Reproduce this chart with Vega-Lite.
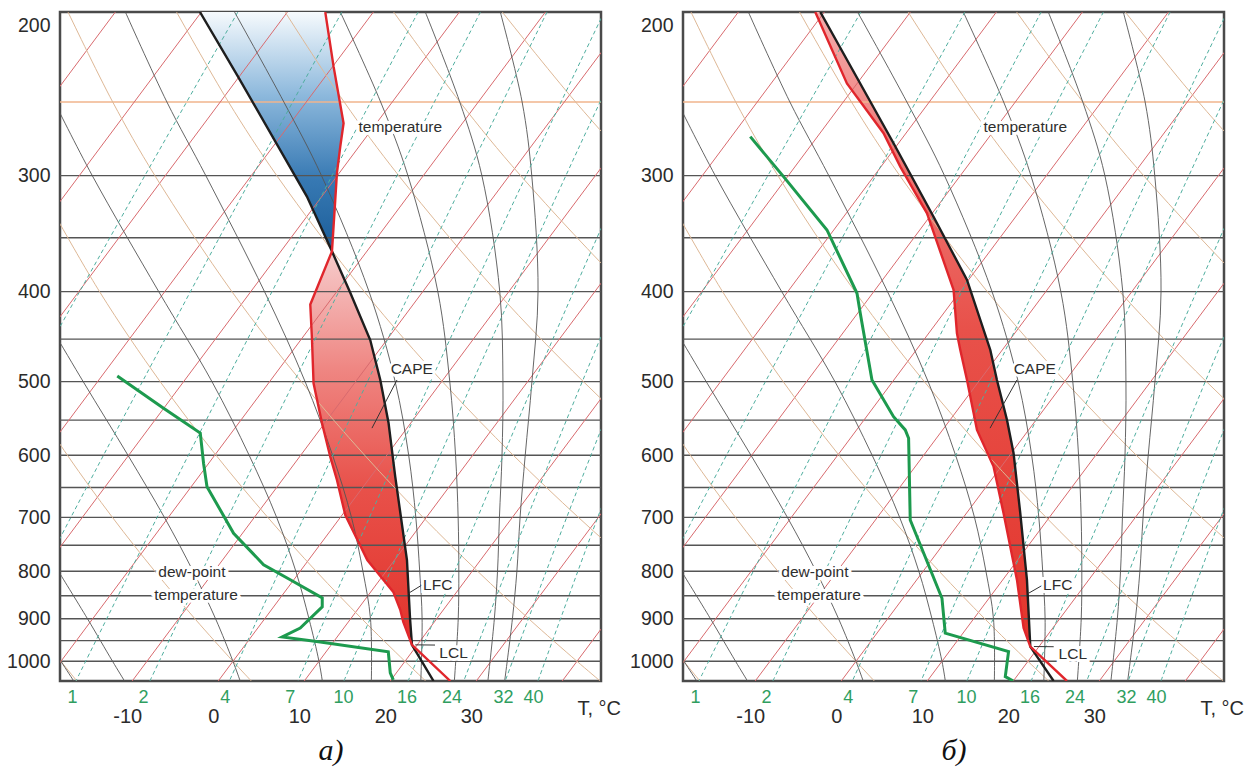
{
"$schema": "https://vega.github.io/schema/vega-lite/v6.json",
"background": "white",
"padding": {"left": 5, "top": 10, "right": 5, "bottom": 10},
"bounds": "flush",
"spacing": 82,
"config": {"view": {"stroke": "#4a4a4a", "strokeWidth": 2.5}, "font": "Liberation Sans"},
"datasets": {
"grid": [
{"k":"T","id":"t-70","x":-70,"p":1050},{"k":"T","id":"t-70","x":-11.96,"p":200},
{"k":"T","id":"t-60","x":-60,"p":1050},{"k":"T","id":"t-60","x":-1.96,"p":200},
{"k":"T","id":"t-50","x":-50,"p":1050},{"k":"T","id":"t-50","x":8.04,"p":200},
{"k":"T","id":"t-40","x":-40,"p":1050},{"k":"T","id":"t-40","x":18.04,"p":200},
{"k":"T","id":"t-30","x":-30,"p":1050},{"k":"T","id":"t-30","x":28.04,"p":200},
{"k":"T","id":"t-20","x":-20,"p":1050},{"k":"T","id":"t-20","x":38.04,"p":200},
{"k":"T","id":"t-10","x":-10,"p":1050},{"k":"T","id":"t-10","x":48.04,"p":200},
{"k":"T","id":"t0","x":0,"p":1050},{"k":"T","id":"t0","x":58.04,"p":200},
{"k":"T","id":"t10","x":10,"p":1050},{"k":"T","id":"t10","x":68.04,"p":200},
{"k":"T","id":"t20","x":20,"p":1050},{"k":"T","id":"t20","x":78.04,"p":200},
{"k":"T","id":"t30","x":30,"p":1050},{"k":"T","id":"t30","x":88.04,"p":200},
{"k":"T","id":"t40","x":40,"p":1050},{"k":"T","id":"t40","x":98.04,"p":200},
{"k":"D","id":"d-20","x":-16.44,"p":1050},{"k":"D","id":"d-20","x":-18.29,"p":1000},{"k":"D","id":"d-20","x":-22.12,"p":900},
{"k":"D","id":"d0","x":3.84,"p":1050},{"k":"D","id":"d0","x":1.71,"p":1000},{"k":"D","id":"d0","x":-2.71,"p":900},{"k":"D","id":"d0","x":-7.37,"p":800},{"k":"D","id":"d0","x":-12.3,"p":700},{"k":"D","id":"d0","x":-17.54,"p":600},{"k":"D","id":"d0","x":-23.15,"p":500},
{"k":"D","id":"d20","x":24.12,"p":1050},{"k":"D","id":"d20","x":21.71,"p":1000},{"k":"D","id":"d20","x":16.69,"p":900},{"k":"D","id":"d20","x":11.39,"p":800},{"k":"D","id":"d20","x":5.76,"p":700},{"k":"D","id":"d20","x":-0.26,"p":600},{"k":"D","id":"d20","x":-6.75,"p":500},{"k":"D","id":"d20","x":-13.8,"p":400},{"k":"D","id":"d20","x":-21.55,"p":300},
{"k":"D","id":"d40","x":44.4,"p":1050},{"k":"D","id":"d40","x":41.71,"p":1000},{"k":"D","id":"d40","x":36.1,"p":900},{"k":"D","id":"d40","x":30.16,"p":800},{"k":"D","id":"d40","x":23.82,"p":700},{"k":"D","id":"d40","x":17.02,"p":600},{"k":"D","id":"d40","x":9.66,"p":500},{"k":"D","id":"d40","x":1.59,"p":400},{"k":"D","id":"d40","x":-7.37,"p":300},{"k":"D","id":"d40","x":-12.27,"p":250},{"k":"D","id":"d40","x":-17.47,"p":200},
{"k":"D","id":"d60","x":55.5,"p":900},{"k":"D","id":"d60","x":48.92,"p":800},{"k":"D","id":"d60","x":41.88,"p":700},{"k":"D","id":"d60","x":34.3,"p":600},{"k":"D","id":"d60","x":26.06,"p":500},{"k":"D","id":"d60","x":16.98,"p":400},{"k":"D","id":"d60","x":6.8,"p":300},{"k":"D","id":"d60","x":1.19,"p":250},{"k":"D","id":"d60","x":-4.85,"p":200},
{"k":"D","id":"d80","x":59.94,"p":700},{"k":"D","id":"d80","x":51.59,"p":600},{"k":"D","id":"d80","x":42.46,"p":500},{"k":"D","id":"d80","x":32.37,"p":400},{"k":"D","id":"d80","x":20.98,"p":300},{"k":"D","id":"d80","x":14.64,"p":250},{"k":"D","id":"d80","x":7.77,"p":200},
{"k":"D","id":"d100","x":68.87,"p":600},{"k":"D","id":"d100","x":58.87,"p":500},{"k":"D","id":"d100","x":47.76,"p":400},{"k":"D","id":"d100","x":35.15,"p":300},{"k":"D","id":"d100","x":28.1,"p":250},{"k":"D","id":"d100","x":20.39,"p":200},
{"k":"D","id":"d120","x":63.15,"p":400},{"k":"D","id":"d120","x":49.33,"p":300},{"k":"D","id":"d120","x":41.55,"p":250},{"k":"D","id":"d120","x":33.02,"p":200},
{"k":"D","id":"d140","x":63.5,"p":300},{"k":"D","id":"d140","x":55.0,"p":250},{"k":"D","id":"d140","x":45.64,"p":200},
{"k":"M","id":"m-20","x":-16.8,"p":1050},{"k":"M","id":"m-20","x":-18.29,"p":1000},{"k":"M","id":"m-20","x":-20.5,"p":930},
{"k":"M","id":"m-14","x":-10.9,"p":1050},{"k":"M","id":"m-14","x":-12.29,"p":1000},{"k":"M","id":"m-14","x":-15.2,"p":900},{"k":"M","id":"m-14","x":-18.58,"p":800},
{"k":"M","id":"m0","x":2.55,"p":1050},{"k":"M","id":"m0","x":1.71,"p":1000},{"k":"M","id":"m0","x":-0.31,"p":900},{"k":"M","id":"m0","x":-2.93,"p":800},{"k":"M","id":"m0","x":-6.26,"p":700},{"k":"M","id":"m0","x":-10.5,"p":600},{"k":"M","id":"m0","x":-15.7,"p":500},{"k":"M","id":"m0","x":-21.9,"p":400},
{"k":"M","id":"m10","x":12.1,"p":1050},{"k":"M","id":"m10","x":11.71,"p":1000},{"k":"M","id":"m10","x":10.55,"p":900},{"k":"M","id":"m10","x":9.02,"p":800},{"k":"M","id":"m10","x":6.79,"p":700},{"k":"M","id":"m10","x":3.59,"p":600},{"k":"M","id":"m10","x":-0.73,"p":500},{"k":"M","id":"m10","x":-6.92,"p":400},{"k":"M","id":"m10","x":-14.65,"p":300},{"k":"M","id":"m10","x":-19.05,"p":250},
{"k":"M","id":"m16","x":17.8,"p":1050},{"k":"M","id":"m16","x":17.7,"p":900},{"k":"M","id":"m16","x":16.82,"p":800},{"k":"M","id":"m16","x":15.49,"p":700},{"k":"M","id":"m16","x":13.29,"p":600},{"k":"M","id":"m16","x":10.1,"p":500},{"k":"M","id":"m16","x":5.38,"p":400},{"k":"M","id":"m16","x":-1.45,"p":300},{"k":"M","id":"m16","x":-5.97,"p":250},{"k":"M","id":"m16","x":-10.8,"p":200},
{"k":"M","id":"m22","x":23.55,"p":1050},{"k":"M","id":"m22","x":23.7,"p":900},{"k":"M","id":"m22","x":23.42,"p":800},{"k":"M","id":"m22","x":22.97,"p":700},{"k":"M","id":"m22","x":22.14,"p":600},{"k":"M","id":"m22","x":20.57,"p":500},{"k":"M","id":"m22","x":17.53,"p":400},{"k":"M","id":"m22","x":12.0,"p":300},{"k":"M","id":"m22","x":7.63,"p":250},{"k":"M","id":"m22","x":1.89,"p":200},
{"k":"M","id":"m26","x":27.45,"p":1050},{"k":"M","id":"m26","x":27.9,"p":900},{"k":"M","id":"m26","x":27.97,"p":800},{"k":"M","id":"m26","x":27.89,"p":700},{"k":"M","id":"m26","x":27.59,"p":600},{"k":"M","id":"m26","x":26.92,"p":500},{"k":"M","id":"m26","x":25.53,"p":400},{"k":"M","id":"m26","x":22.05,"p":300},{"k":"M","id":"m26","x":18.88,"p":250},{"k":"M","id":"m26","x":14.19,"p":200},
{"k":"M","id":"m30","x":31.35,"p":1050},{"k":"M","id":"m30","x":32.1,"p":900},{"k":"M","id":"m30","x":32.47,"p":800},{"k":"M","id":"m30","x":32.69,"p":700},{"k":"M","id":"m30","x":32.99,"p":600},{"k":"M","id":"m30","x":33.1,"p":500},{"k":"M","id":"m30","x":32.73,"p":400},{"k":"M","id":"m30","x":30.65,"p":300},{"k":"M","id":"m30","x":28.08,"p":250},{"k":"M","id":"m30","x":24.07,"p":200},
{"k":"M","id":"m32","x":33.3,"p":1050},{"k":"M","id":"m32","x":34.2,"p":900},{"k":"M","id":"m32","x":34.72,"p":800},{"k":"M","id":"m32","x":35.09,"p":700},{"k":"M","id":"m32","x":35.69,"p":600},{"k":"M","id":"m32","x":36.47,"p":500},{"k":"M","id":"m32","x":37.18,"p":400},{"k":"M","id":"m32","x":36.45,"p":300},{"k":"M","id":"m32","x":35.33,"p":250},{"k":"M","id":"m32","x":32.79,"p":200},
{"k":"W","id":"w0.1","x":-21.97,"p":500},{"k":"W","id":"w0.1","x":-16.12,"p":400},{"k":"W","id":"w0.1","x":-8.53,"p":300},{"k":"W","id":"w0.1","x":2.28,"p":200},
{"k":"W","id":"w0.4","x":-20.4,"p":800},{"k":"W","id":"w0.4","x":-17.14,"p":700},{"k":"W","id":"w0.4","x":-8.82,"p":500},{"k":"W","id":"w0.4","x":4.01,"p":300},{"k":"W","id":"w0.4","x":14.37,"p":200},
{"k":"W","id":"w1","x":-16.55,"p":1050},{"k":"W","id":"w1","x":-7.11,"p":700},{"k":"W","id":"w1","x":0.88,"p":500},{"k":"W","id":"w1","x":13.23,"p":300},{"k":"W","id":"w1","x":23.24,"p":200},
{"k":"W","id":"w2","x":-7.95,"p":1050},{"k":"W","id":"w2","x":1.12,"p":700},{"k":"W","id":"w2","x":8.82,"p":500},{"k":"W","id":"w2","x":20.78,"p":300},{"k":"W","id":"w2","x":30.48,"p":200},
{"k":"W","id":"w4","x":1.29,"p":1050},{"k":"W","id":"w4","x":9.96,"p":700},{"k":"W","id":"w4","x":17.35,"p":500},{"k":"W","id":"w4","x":28.86,"p":300},{"k":"W","id":"w4","x":38.23,"p":200},
{"k":"W","id":"w7","x":9.27,"p":1050},{"k":"W","id":"w7","x":17.58,"p":700},{"k":"W","id":"w7","x":24.68,"p":500},{"k":"W","id":"w7","x":35.79,"p":300},{"k":"W","id":"w7","x":44.87,"p":200},
{"k":"W","id":"w10","x":14.61,"p":1050},{"k":"W","id":"w10","x":22.67,"p":700},{"k":"W","id":"w10","x":29.58,"p":500},{"k":"W","id":"w10","x":40.42,"p":300},{"k":"W","id":"w10","x":49.29,"p":200},
{"k":"W","id":"w16","x":22.07,"p":1050},{"k":"W","id":"w16","x":30.15,"p":700},{"k":"W","id":"w16","x":36.77,"p":500},{"k":"W","id":"w16","x":47.2,"p":300},
{"k":"W","id":"w24","x":28.54,"p":1050},{"k":"W","id":"w24","x":35.93,"p":700},{"k":"W","id":"w24","x":42.32,"p":500},{"k":"W","id":"w24","x":52.42,"p":300},
{"k":"W","id":"w32","x":33.36,"p":1050},{"k":"W","id":"w32","x":40.51,"p":700},{"k":"W","id":"w32","x":46.71,"p":500},
{"k":"W","id":"w40","x":37.17,"p":1050},{"k":"W","id":"w40","x":44.12,"p":700},{"k":"W","id":"w40","x":50.18,"p":500}
],
"isobars": [{"p":300},{"p":350},{"p":400},{"p":450},{"p":500},{"p":550},{"p":600},{"p":650},{"p":700},{"p":750},{"p":800},{"p":850},{"p":900},{"p":950},{"p":1000}],
"tropo": [{"p":250}],
"prof": [
{"panel":"a","k":"T","x":26.98,"p":1050},{"panel":"a","k":"T","x":22.52,"p":960},{"panel":"a","k":"T","x":21.51,"p":907},{"panel":"a","k":"T","x":21.16,"p":880},{"panel":"a","k":"T","x":20.35,"p":842},{"panel":"a","k":"T","x":17.33,"p":778},{"panel":"a","k":"T","x":14.77,"p":696},{"panel":"a","k":"T","x":13.8,"p":638},{"panel":"a","k":"T","x":13.02,"p":602},{"panel":"a","k":"T","x":12.06,"p":554},{"panel":"a","k":"T","x":11.08,"p":502},{"panel":"a","k":"T","x":10.9,"p":451},{"panel":"a","k":"T","x":10.7,"p":413},{"panel":"a","k":"T","x":13.22,"p":362},{"panel":"a","k":"T","x":13.6,"p":319},{"panel":"a","k":"T","x":13.8,"p":298},{"panel":"a","k":"T","x":14.19,"p":279},{"panel":"a","k":"T","x":14.57,"p":263.5},{"panel":"a","k":"T","x":13.41,"p":229},{"panel":"a","k":"T","x":12.44,"p":200},
{"panel":"a","k":"P","x":25.03,"p":1050},{"panel":"a","k":"P","x":22.52,"p":960},{"panel":"a","k":"P","x":22.3,"p":900},{"panel":"a","k":"P","x":21.94,"p":778},{"panel":"a","k":"P","x":20.58,"p":633},{"panel":"a","k":"P","x":19.8,"p":554},{"panel":"a","k":"P","x":18.84,"p":498},{"panel":"a","k":"P","x":17.67,"p":451},{"panel":"a","k":"P","x":15.35,"p":401},{"panel":"a","k":"P","x":13.22,"p":362},{"panel":"a","k":"P","x":10.31,"p":316},{"panel":"a","k":"P","x":2.33,"p":235},{"panel":"a","k":"P","x":-2.13,"p":200},
{"panel":"a","k":"D","x":-11.74,"p":493},{"panel":"a","k":"D","x":-6.36,"p":534},{"panel":"a","k":"D","x":-2.09,"p":568},{"panel":"a","k":"D","x":-1.71,"p":612},{"panel":"a","k":"D","x":-1.31,"p":648.6},{"panel":"a","k":"D","x":1.78,"p":728},{"panel":"a","k":"D","x":5.27,"p":787},{"panel":"a","k":"D","x":8.37,"p":817},{"panel":"a","k":"D","x":12.09,"p":854.5},{"panel":"a","k":"D","x":12.09,"p":873.8},{"panel":"a","k":"D","x":9.53,"p":921},{"panel":"a","k":"D","x":7.44,"p":941.3},{"panel":"a","k":"D","x":11.86,"p":953},{"panel":"a","k":"D","x":19.77,"p":976.9},{"panel":"a","k":"D","x":20.0,"p":1029},{"panel":"a","k":"D","x":20.35,"p":1047},
{"panel":"b","k":"T","x":26.24,"p":1050},{"panel":"b","k":"T","x":21.98,"p":964.3},{"panel":"b","k":"T","x":21.2,"p":920.6},{"panel":"b","k":"T","x":20.43,"p":817.3},{"panel":"b","k":"T","x":18.87,"p":692.8},{"panel":"b","k":"T","x":17.71,"p":617.2},{"panel":"b","k":"T","x":15.78,"p":563.5},{"panel":"b","k":"T","x":14.62,"p":497.9},{"panel":"b","k":"T","x":13.84,"p":462.2},{"panel":"b","k":"T","x":13.45,"p":443.5},{"panel":"b","k":"T","x":13.06,"p":398.3},{"panel":"b","k":"T","x":9.97,"p":329.4},{"panel":"b","k":"T","x":6.86,"p":293.4},{"panel":"b","k":"T","x":4.92,"p":270.1},{"panel":"b","k":"T","x":0.66,"p":238.7},{"panel":"b","k":"T","x":-3.02,"p":200},
{"panel":"b","k":"P","x":24.69,"p":1050},{"panel":"b","k":"P","x":21.98,"p":964.3},{"panel":"b","k":"P","x":21.59,"p":817.3},{"panel":"b","k":"P","x":20.81,"p":692.2},{"panel":"b","k":"P","x":20.03,"p":596.6},{"panel":"b","k":"P","x":19.27,"p":549.8},{"panel":"b","k":"P","x":18.1,"p":497.9},{"panel":"b","k":"P","x":17.33,"p":462.2},{"panel":"b","k":"P","x":14.62,"p":388.6},{"panel":"b","k":"P","x":10.73,"p":332.2},{"panel":"b","k":"P","x":6.08,"p":276.9},{"panel":"b","k":"P","x":-2.44,"p":200},
{"panel":"b","k":"D","x":-10.58,"p":272.4},{"panel":"b","k":"D","x":-6.71,"p":300.8},{"panel":"b","k":"D","x":-1.66,"p":343.3},{"panel":"b","k":"D","x":1.83,"p":401.6},{"panel":"b","k":"D","x":2.21,"p":422},{"panel":"b","k":"D","x":3.57,"p":497.9},{"panel":"b","k":"D","x":6.08,"p":545.3},{"panel":"b","k":"D","x":7.44,"p":563.5},{"panel":"b","k":"D","x":7.83,"p":575.3},{"panel":"b","k":"D","x":8.02,"p":704.4},{"panel":"b","k":"D","x":11.71,"p":855.3},{"panel":"b","k":"D","x":12.09,"p":932.7},{"panel":"b","k":"D","x":19.45,"p":976.2},{"panel":"b","k":"D","x":19.07,"p":1038.6},{"panel":"b","k":"D","x":20.0,"p":1050}
],
"fills": [
{"panel":"a","k":"cape","p":960,"x1":22.52,"x2":22.52},{"panel":"a","k":"cape","p":907,"x1":21.51,"x2":22.33},{"panel":"a","k":"cape","p":880,"x1":21.16,"x2":22.24},{"panel":"a","k":"cape","p":842,"x1":20.35,"x2":22.13},{"panel":"a","k":"cape","p":778,"x1":17.33,"x2":21.94},{"panel":"a","k":"cape","p":696,"x1":14.77,"x2":21.21},{"panel":"a","k":"cape","p":638,"x1":13.8,"x2":20.63},{"panel":"a","k":"cape","p":602,"x1":13.02,"x2":20.29},{"panel":"a","k":"cape","p":554,"x1":12.06,"x2":19.8},{"panel":"a","k":"cape","p":502,"x1":11.08,"x2":18.91},{"panel":"a","k":"cape","p":451,"x1":10.9,"x2":17.67},{"panel":"a","k":"cape","p":413,"x1":10.7,"x2":15.93},{"panel":"a","k":"cape","p":401,"x1":11.26,"x2":15.35},{"panel":"a","k":"cape","p":362,"x1":13.22,"x2":13.22},
{"panel":"a","k":"neg","p":362,"x1":13.22,"x2":13.22},{"panel":"a","k":"neg","p":319,"x1":10.5,"x2":13.6},{"panel":"a","k":"neg","p":316,"x1":10.31,"x2":13.6},{"panel":"a","k":"neg","p":298,"x1":8.73,"x2":13.8},{"panel":"a","k":"neg","p":279,"x1":6.95,"x2":14.19},{"panel":"a","k":"neg","p":263.5,"x1":5.42,"x2":14.57},{"panel":"a","k":"neg","p":235,"x1":2.33,"x2":13.62},{"panel":"a","k":"neg","p":229,"x1":1.61,"x2":13.41},{"panel":"a","k":"neg","p":200,"x1":-2.13,"x2":12.44},
{"panel":"b","k":"cape","p":200,"x1":-3.02,"x2":-2.44},{"panel":"b","k":"cape","p":238.7,"x1":0.66,"x2":2.19},{"panel":"b","k":"cape","p":270.1,"x1":4.92,"x2":5.41},{"panel":"b","k":"cape","p":276.9,"x1":5.51,"x2":6.08},{"panel":"b","k":"cape","p":293.4,"x1":6.86,"x2":7.52},{"panel":"b","k":"cape","p":329.4,"x1":9.97,"x2":10.51},{"panel":"b","k":"cape","p":332.2,"x1":10.1,"x2":10.73},{"panel":"b","k":"cape","p":388.6,"x1":12.67,"x2":14.62},{"panel":"b","k":"cape","p":398.3,"x1":13.06,"x2":14.99},{"panel":"b","k":"cape","p":443.5,"x1":13.45,"x2":16.69},{"panel":"b","k":"cape","p":462.2,"x1":13.84,"x2":17.33},{"panel":"b","k":"cape","p":497.9,"x1":14.62,"x2":18.1},{"panel":"b","k":"cape","p":549.8,"x1":15.55,"x2":19.27},{"panel":"b","k":"cape","p":563.5,"x1":15.78,"x2":19.49},{"panel":"b","k":"cape","p":596.6,"x1":17.0,"x2":20.03},{"panel":"b","k":"cape","p":617.2,"x1":17.71,"x2":20.2},{"panel":"b","k":"cape","p":692.5,"x1":18.87,"x2":20.81},{"panel":"b","k":"cape","p":817.3,"x1":20.43,"x2":21.59},{"panel":"b","k":"cape","p":920.6,"x1":21.2,"x2":21.87},{"panel":"b","k":"cape","p":964.3,"x1":21.98,"x2":21.98}
],
"notes": [
{"panel":"a","t":"temperature","x":21.16,"p":266},{"panel":"a","t":"CAPE","x":22.5,"p":485},{"panel":"a","t":"LFC","x":25.52,"p":828.5},{"panel":"a","t":"LCL","x":27.36,"p":980},{"panel":"a","t":"dew-point","x":-3.06,"p":802},{"panel":"a","t":"temperature","x":-2.58,"p":849},
{"panel":"b","t":"temperature","x":21.4,"p":266},{"panel":"b","t":"CAPE","x":22.5,"p":485},{"panel":"b","t":"LFC","x":25.17,"p":828.5},{"panel":"b","t":"LCL","x":26.92,"p":982},{"panel":"b","t":"dew-point","x":-3.06,"p":802},{"panel":"b","t":"temperature","x":-2.58,"p":849}
],
"leaders": [
{"panel":"a","id":"cape","x":20.78,"p":497.9},{"panel":"a","id":"cape","x":17.87,"p":561},{"panel":"a","id":"lfc","x":22.13,"p":844.7},{"panel":"a","id":"lfc","x":23.69,"p":827.6},{"panel":"a","id":"lcl","x":22.9,"p":960},{"panel":"a","id":"lcl","x":25.2,"p":960.5},
{"panel":"b","id":"cape","x":20.43,"p":497.9},{"panel":"b","id":"cape","x":17.3,"p":561},{"panel":"b","id":"lfc","x":21.78,"p":844.7},{"panel":"b","id":"lfc","x":23.45,"p":827.6},{"panel":"b","id":"lcl","x":22.4,"p":964},{"panel":"b","id":"lcl","x":24.7,"p":964.5}
],
"wlab": [
{"x":-16.95,"t":"1"},{"x":-8.68,"t":"2"},{"x":0.81,"t":"4"},{"x":8.37,"t":"7"},{"x":14.57,"t":"10"},{"x":21.94,"t":"16"},{"x":27.17,"t":"24"},{"x":33.17,"t":"32"},{"x":36.66,"t":"40"}
]
},
"hconcat": [
{
"width": 541, "height": 669,
"resolve": {"axis": {"x": "independent", "y": "independent"}},
"layer": [
{"data":{"name":"fills"},"transform":[{"filter":"datum.panel === 'a' && datum.k === 'neg'"}],
 "mark":{"type":"area","orient":"horizontal","color":{"gradient":"linear","x1":0,"y1":0,"x2":0,"y2":1,"stops":[{"offset":0,"color":"#f6fafd"},{"offset":0.35,"color":"#8cb8dc"},{"offset":0.7,"color":"#3779b3"},{"offset":1,"color":"#1b5d99"}]}},
 "encoding":{
  "y":{"field":"p","type":"quantitative","scale":{"type":"log","domain":[200,1050],"reverse":true,"nice":false},
       "axis":{"values":[200,300,400,500,600,700,800,900,1000],"format":"d","title":null,"grid":false,"ticks":false,"tickSize":0,"domain":false,"labelFontSize":19.5,"labelColor":"#2b2b2b","labelPadding":10,"labelFlush":true,"labelFlushOffset":-4}},
  "x":{"field":"x1","type":"quantitative","scale":{"domain":[-18.4,44.5],"nice":false,"zero":false},
       "axis":{"values":[-10,0,10,20,30],"labelExpr":"'' + datum.value","title":"а)","grid":false,"ticks":false,"tickSize":0,"domain":false,"labelFontSize":20,"labelColor":"#2b2b2b","labelPadding":25,"labelOffset":-5,"titleFont":"Liberation Serif","titleFontSize":30,"titleFontStyle":"italic","titleFontWeight":"normal","titleColor":"#111111","titlePadding":9}},
  "x2":{"field":"x2"}
 }},
{"data":{"name":"fills"},"transform":[{"filter":"datum.panel === 'a' && datum.k === 'cape'"}],
 "mark":{"type":"area","orient":"horizontal","color":{"gradient":"linear","x1":0,"y1":0,"x2":0,"y2":1,"stops":[{"offset":0,"color":"#f6cccc"},{"offset":0.3,"color":"#ef8682"},{"offset":0.6,"color":"#e8514a"},{"offset":1,"color":"#e2332b"}]}},
 "encoding":{"y":{"field":"p","type":"quantitative","scale":{"type":"log","domain":[200,1050],"reverse":true,"nice":false},"axis":null},
  "x":{"field":"x1","type":"quantitative","scale":{"domain":[-18.4,44.5],"nice":false,"zero":false},"axis":null},"x2":{"field":"x2"}}},
{"data":{"name":"isobars"},"mark":{"type":"rule","color":"#555555","strokeWidth":1.4},
 "encoding":{"y":{"field":"p","type":"quantitative","scale":{"type":"log","domain":[200,1050],"reverse":true,"nice":false},"axis":null}}},
{"data":{"name":"tropo"},"mark":{"type":"rule","color":"#f0b48c","strokeWidth":1.5},
 "encoding":{"y":{"field":"p","type":"quantitative","scale":{"type":"log","domain":[200,1050],"reverse":true,"nice":false},"axis":null}}},
{"data":{"name":"grid"},"transform":[{"filter":"datum.k === 'T'"}],"mark":{"type":"line","clip":true,"color":"#d86a6e","strokeWidth":1},
 "encoding":{"x":{"field":"x","type":"quantitative","scale":{"domain":[-18.4,44.5],"nice":false,"zero":false},"axis":null},
  "y":{"field":"p","type":"quantitative","scale":{"type":"log","domain":[200,1050],"reverse":true,"nice":false},"axis":null},
  "detail":{"field":"id"},"order":{"field":"p"}}},
{"data":{"name":"grid"},"transform":[{"filter":"datum.k === 'D'"}],"mark":{"type":"line","clip":true,"color":"#deb896","strokeWidth":1,"interpolate":"catmull-rom"},
 "encoding":{"x":{"field":"x","type":"quantitative","scale":{"domain":[-18.4,44.5],"nice":false,"zero":false},"axis":null},
  "y":{"field":"p","type":"quantitative","scale":{"type":"log","domain":[200,1050],"reverse":true,"nice":false},"axis":null},
  "detail":{"field":"id"},"order":{"field":"p"}}},
{"data":{"name":"grid"},"transform":[{"filter":"datum.k === 'M'"}],"mark":{"type":"line","clip":true,"color":"#555555","strokeWidth":0.9,"interpolate":"catmull-rom"},
 "encoding":{"x":{"field":"x","type":"quantitative","scale":{"domain":[-18.4,44.5],"nice":false,"zero":false},"axis":null},
  "y":{"field":"p","type":"quantitative","scale":{"type":"log","domain":[200,1050],"reverse":true,"nice":false},"axis":null},
  "detail":{"field":"id"},"order":{"field":"p"}}},
{"data":{"name":"grid"},"transform":[{"filter":"datum.k === 'W'"}],"mark":{"type":"line","clip":true,"color":"#4fae9f","strokeWidth":1,"strokeDash":[4,3],"interpolate":"catmull-rom"},
 "encoding":{"x":{"field":"x","type":"quantitative","scale":{"domain":[-18.4,44.5],"nice":false,"zero":false},"axis":null},
  "y":{"field":"p","type":"quantitative","scale":{"type":"log","domain":[200,1050],"reverse":true,"nice":false},"axis":null},
  "detail":{"field":"id"},"order":{"field":"p"}}},
{"data":{"name":"prof"},"transform":[{"filter":"datum.panel === 'a' && datum.k === 'D'"}],"mark":{"type":"line","clip":true,"color":"#1d9a4e","strokeWidth":3},
 "encoding":{"x":{"field":"x","type":"quantitative","scale":{"domain":[-18.4,44.5],"nice":false,"zero":false},"axis":null},
  "y":{"field":"p","type":"quantitative","scale":{"type":"log","domain":[200,1050],"reverse":true,"nice":false},"axis":null},"order":{"field":"p"}}},
{"data":{"name":"prof"},"transform":[{"filter":"datum.panel === 'a' && datum.k === 'P'"}],"mark":{"type":"line","clip":true,"color":"#1e1e1e","strokeWidth":2.4},
 "encoding":{"x":{"field":"x","type":"quantitative","scale":{"domain":[-18.4,44.5],"nice":false,"zero":false},"axis":null},
  "y":{"field":"p","type":"quantitative","scale":{"type":"log","domain":[200,1050],"reverse":true,"nice":false},"axis":null},"order":{"field":"p"}}},
{"data":{"name":"prof"},"transform":[{"filter":"datum.panel === 'a' && datum.k === 'T'"}],"mark":{"type":"line","clip":true,"color":"#e0262c","strokeWidth":2.4},
 "encoding":{"x":{"field":"x","type":"quantitative","scale":{"domain":[-18.4,44.5],"nice":false,"zero":false},"axis":null},
  "y":{"field":"p","type":"quantitative","scale":{"type":"log","domain":[200,1050],"reverse":true,"nice":false},"axis":null},"order":{"field":"p"}}},
{"data":{"name":"leaders"},"transform":[{"filter":"datum.panel === 'a'"}],"mark":{"type":"line","color":"#333333","strokeWidth":1},
 "encoding":{"x":{"field":"x","type":"quantitative","scale":{"domain":[-18.4,44.5],"nice":false,"zero":false},"axis":null},
  "y":{"field":"p","type":"quantitative","scale":{"type":"log","domain":[200,1050],"reverse":true,"nice":false},"axis":null},"detail":{"field":"id"},"order":{"field":"x"}}},
{"data":{"name":"notes"},"transform":[{"filter":"datum.panel === 'a'"}],"mark":{"type":"text","fontSize":15.5,"font":"Liberation Sans","stroke":"white","strokeWidth":6,"fill":"white","align":"center","baseline":"middle"},
 "encoding":{"x":{"field":"x","type":"quantitative","scale":{"domain":[-18.4,44.5],"nice":false,"zero":false},"axis":null},
  "y":{"field":"p","type":"quantitative","scale":{"type":"log","domain":[200,1050],"reverse":true,"nice":false},"axis":null},"text":{"field":"t"}}},
{"data":{"name":"notes"},"transform":[{"filter":"datum.panel === 'a'"}],"mark":{"type":"text","fontSize":15.5,"font":"Liberation Sans","color":"#2e2e2e","align":"center","baseline":"middle"},
 "encoding":{"x":{"field":"x","type":"quantitative","scale":{"domain":[-18.4,44.5],"nice":false,"zero":false},"axis":null},
  "y":{"field":"p","type":"quantitative","scale":{"type":"log","domain":[200,1050],"reverse":true,"nice":false},"axis":null},"text":{"field":"t"}}},
{"data":{"name":"wlab"},"mark":{"type":"text","fontSize":18,"font":"Liberation Sans","color":"#2f9e5f","align":"center","baseline":"middle","clip":false},
 "encoding":{"x":{"field":"x","type":"quantitative","scale":{"domain":[-18.4,44.5],"nice":false,"zero":false},"axis":null},
  "y":{"datum":1095,"type":"quantitative","scale":{"type":"log","domain":[200,1050],"reverse":true,"nice":false},"axis":null},"text":{"field":"t"}}},
{"data":{"values":[{"t":"T, °C"}]},"mark":{"type":"text","fontSize":20,"font":"Liberation Sans","color":"#2b2b2b","align":"center","baseline":"middle","clip":false},
 "encoding":{"x":{"datum":44.3,"type":"quantitative","scale":{"domain":[-18.4,44.5],"nice":false,"zero":false},"axis":null},
  "y":{"datum":1125,"type":"quantitative","scale":{"type":"log","domain":[200,1050],"reverse":true,"nice":false},"axis":null},"text":{"field":"t"}}}
]
},
{
"width": 541, "height": 669,
"resolve": {"axis": {"x": "independent", "y": "independent"}},
"layer": [
{"data":{"name":"fills"},"transform":[{"filter":"datum.panel === 'b' && datum.k === 'cape'"}],
 "mark":{"type":"area","orient":"horizontal","color":{"gradient":"linear","x1":0,"y1":0,"x2":0,"y2":1,"stops":[{"offset":0,"color":"#f4acac"},{"offset":0.25,"color":"#ee7572"},{"offset":0.5,"color":"#e8514a"},{"offset":1,"color":"#e3352c"}]}},
 "encoding":{
  "y":{"field":"p","type":"quantitative","scale":{"type":"log","domain":[200,1050],"reverse":true,"nice":false},
       "axis":{"values":[200,300,400,500,600,700,800,900,1000],"format":"d","title":null,"grid":false,"ticks":false,"tickSize":0,"domain":false,"labelFontSize":19.5,"labelColor":"#2b2b2b","labelPadding":10,"labelFlush":true,"labelFlushOffset":-4}},
  "x":{"field":"x1","type":"quantitative","scale":{"domain":[-18.4,44.5],"nice":false,"zero":false},
       "axis":{"values":[-10,0,10,20,30],"labelExpr":"'' + datum.value","title":"б)","grid":false,"ticks":false,"tickSize":0,"domain":false,"labelFontSize":20,"labelColor":"#2b2b2b","labelPadding":25,"labelOffset":-5,"titleFont":"Liberation Serif","titleFontSize":30,"titleFontStyle":"italic","titleFontWeight":"normal","titleColor":"#111111","titlePadding":9}},
  "x2":{"field":"x2"}
 }},
{"data":{"name":"isobars"},"mark":{"type":"rule","color":"#555555","strokeWidth":1.4},
 "encoding":{"y":{"field":"p","type":"quantitative","scale":{"type":"log","domain":[200,1050],"reverse":true,"nice":false},"axis":null}}},
{"data":{"name":"tropo"},"mark":{"type":"rule","color":"#f0b48c","strokeWidth":1.5},
 "encoding":{"y":{"field":"p","type":"quantitative","scale":{"type":"log","domain":[200,1050],"reverse":true,"nice":false},"axis":null}}},
{"data":{"name":"grid"},"transform":[{"filter":"datum.k === 'T'"}],"mark":{"type":"line","clip":true,"color":"#d86a6e","strokeWidth":1},
 "encoding":{"x":{"field":"x","type":"quantitative","scale":{"domain":[-18.4,44.5],"nice":false,"zero":false},"axis":null},
  "y":{"field":"p","type":"quantitative","scale":{"type":"log","domain":[200,1050],"reverse":true,"nice":false},"axis":null},
  "detail":{"field":"id"},"order":{"field":"p"}}},
{"data":{"name":"grid"},"transform":[{"filter":"datum.k === 'D'"}],"mark":{"type":"line","clip":true,"color":"#deb896","strokeWidth":1,"interpolate":"catmull-rom"},
 "encoding":{"x":{"field":"x","type":"quantitative","scale":{"domain":[-18.4,44.5],"nice":false,"zero":false},"axis":null},
  "y":{"field":"p","type":"quantitative","scale":{"type":"log","domain":[200,1050],"reverse":true,"nice":false},"axis":null},
  "detail":{"field":"id"},"order":{"field":"p"}}},
{"data":{"name":"grid"},"transform":[{"filter":"datum.k === 'M'"}],"mark":{"type":"line","clip":true,"color":"#555555","strokeWidth":0.9,"interpolate":"catmull-rom"},
 "encoding":{"x":{"field":"x","type":"quantitative","scale":{"domain":[-18.4,44.5],"nice":false,"zero":false},"axis":null},
  "y":{"field":"p","type":"quantitative","scale":{"type":"log","domain":[200,1050],"reverse":true,"nice":false},"axis":null},
  "detail":{"field":"id"},"order":{"field":"p"}}},
{"data":{"name":"grid"},"transform":[{"filter":"datum.k === 'W'"}],"mark":{"type":"line","clip":true,"color":"#4fae9f","strokeWidth":1,"strokeDash":[4,3],"interpolate":"catmull-rom"},
 "encoding":{"x":{"field":"x","type":"quantitative","scale":{"domain":[-18.4,44.5],"nice":false,"zero":false},"axis":null},
  "y":{"field":"p","type":"quantitative","scale":{"type":"log","domain":[200,1050],"reverse":true,"nice":false},"axis":null},
  "detail":{"field":"id"},"order":{"field":"p"}}},
{"data":{"name":"prof"},"transform":[{"filter":"datum.panel === 'b' && datum.k === 'D'"}],"mark":{"type":"line","clip":true,"color":"#1d9a4e","strokeWidth":3},
 "encoding":{"x":{"field":"x","type":"quantitative","scale":{"domain":[-18.4,44.5],"nice":false,"zero":false},"axis":null},
  "y":{"field":"p","type":"quantitative","scale":{"type":"log","domain":[200,1050],"reverse":true,"nice":false},"axis":null},"order":{"field":"p"}}},
{"data":{"name":"prof"},"transform":[{"filter":"datum.panel === 'b' && datum.k === 'P'"}],"mark":{"type":"line","clip":true,"color":"#1e1e1e","strokeWidth":2.4},
 "encoding":{"x":{"field":"x","type":"quantitative","scale":{"domain":[-18.4,44.5],"nice":false,"zero":false},"axis":null},
  "y":{"field":"p","type":"quantitative","scale":{"type":"log","domain":[200,1050],"reverse":true,"nice":false},"axis":null},"order":{"field":"p"}}},
{"data":{"name":"prof"},"transform":[{"filter":"datum.panel === 'b' && datum.k === 'T'"}],"mark":{"type":"line","clip":true,"color":"#e0262c","strokeWidth":2.4},
 "encoding":{"x":{"field":"x","type":"quantitative","scale":{"domain":[-18.4,44.5],"nice":false,"zero":false},"axis":null},
  "y":{"field":"p","type":"quantitative","scale":{"type":"log","domain":[200,1050],"reverse":true,"nice":false},"axis":null},"order":{"field":"p"}}},
{"data":{"name":"leaders"},"transform":[{"filter":"datum.panel === 'b'"}],"mark":{"type":"line","color":"#333333","strokeWidth":1},
 "encoding":{"x":{"field":"x","type":"quantitative","scale":{"domain":[-18.4,44.5],"nice":false,"zero":false},"axis":null},
  "y":{"field":"p","type":"quantitative","scale":{"type":"log","domain":[200,1050],"reverse":true,"nice":false},"axis":null},"detail":{"field":"id"},"order":{"field":"x"}}},
{"data":{"name":"notes"},"transform":[{"filter":"datum.panel === 'b'"}],"mark":{"type":"text","fontSize":15.5,"font":"Liberation Sans","stroke":"white","strokeWidth":6,"fill":"white","align":"center","baseline":"middle"},
 "encoding":{"x":{"field":"x","type":"quantitative","scale":{"domain":[-18.4,44.5],"nice":false,"zero":false},"axis":null},
  "y":{"field":"p","type":"quantitative","scale":{"type":"log","domain":[200,1050],"reverse":true,"nice":false},"axis":null},"text":{"field":"t"}}},
{"data":{"name":"notes"},"transform":[{"filter":"datum.panel === 'b'"}],"mark":{"type":"text","fontSize":15.5,"font":"Liberation Sans","color":"#2e2e2e","align":"center","baseline":"middle"},
 "encoding":{"x":{"field":"x","type":"quantitative","scale":{"domain":[-18.4,44.5],"nice":false,"zero":false},"axis":null},
  "y":{"field":"p","type":"quantitative","scale":{"type":"log","domain":[200,1050],"reverse":true,"nice":false},"axis":null},"text":{"field":"t"}}},
{"data":{"name":"wlab"},"mark":{"type":"text","fontSize":18,"font":"Liberation Sans","color":"#2f9e5f","align":"center","baseline":"middle","clip":false},
 "encoding":{"x":{"field":"x","type":"quantitative","scale":{"domain":[-18.4,44.5],"nice":false,"zero":false},"axis":null},
  "y":{"datum":1095,"type":"quantitative","scale":{"type":"log","domain":[200,1050],"reverse":true,"nice":false},"axis":null},"text":{"field":"t"}}},
{"data":{"values":[{"t":"T, °C"}]},"mark":{"type":"text","fontSize":20,"font":"Liberation Sans","color":"#2b2b2b","align":"center","baseline":"middle","clip":false},
 "encoding":{"x":{"datum":44.3,"type":"quantitative","scale":{"domain":[-18.4,44.5],"nice":false,"zero":false},"axis":null},
  "y":{"datum":1125,"type":"quantitative","scale":{"type":"log","domain":[200,1050],"reverse":true,"nice":false},"axis":null},"text":{"field":"t"}}}
]
}
]
}
